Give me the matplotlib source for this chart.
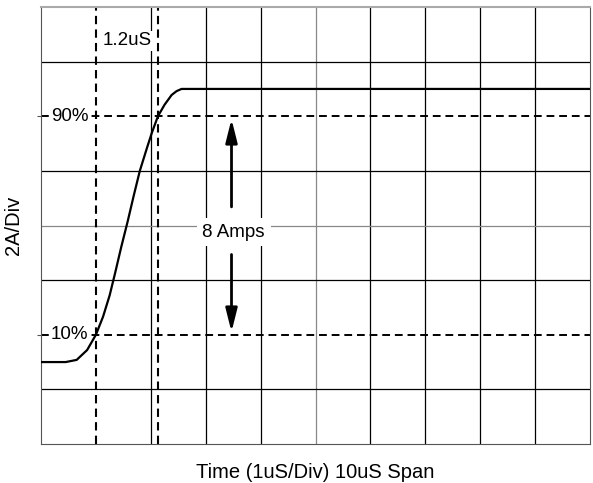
import numpy as np
import matplotlib.pyplot as plt

plt.rcParams['font.family'] = ['Liberation Sans', 'DejaVu Sans']

# 波形数据 (x: 1uS/Div, y: 2A/Div)
t_div = [0.0, 0.45, 0.65, 0.84, 1.0, 1.13, 1.25, 1.35, 1.46, 1.58, 1.69, 1.8,
         1.93, 2.02, 2.13, 2.25, 2.38, 2.47, 2.56, 10.0]
i_div = [1.5, 1.5, 1.54, 1.72, 2.0, 2.33, 2.72, 3.13, 3.6, 4.08, 4.55, 5.0,
         5.42, 5.70, 6.0, 6.21, 6.39, 6.46, 6.5, 6.5]

level_10 = 2.0
level_90 = 6.0
t_10 = 1.0
t_90 = 2.13
arrow_x = 3.47

fig = plt.figure(figsize=(5.93, 4.83), dpi=100)
ax = fig.add_axes([41 / 593, 1 - 444 / 483, 549 / 593, 437 / 483])
ax.set_xlim(0, 10)
ax.set_ylim(0, 8)

# 网格 (10%/90% 处由虚线代替)
for x in range(2, 10):
    ax.axvline(x, color='#888888' if x == 5 else 'black', lw=0.9, zorder=1)
for y in [1, 3, 4, 5, 7]:
    ax.axhline(y, color='#888888' if y == 4 else 'black', lw=0.9, zorder=1)

# 10% / 90% 虚线
dash = (0, (4, 2.5))
ax.axhline(level_90, color='black', lw=1.4, ls=dash, zorder=2)
ax.axhline(level_10, color='black', lw=1.4, ls=dash, zorder=2)
ax.axvline(t_10, color='black', lw=1.5, ls=dash, zorder=2)
ax.axvline(t_90, color='black', lw=1.5, ls=dash, zorder=2)

# 波形
ax.plot(t_div, i_div, color='black', lw=1.6, zorder=4, solid_joinstyle='round')

# 标注
box = dict(facecolor='white', edgecolor='none', pad=1)
ax.text(0.86, level_90, '90%', ha='right', va='center', fontsize=13.5, bbox=box, zorder=3)
ax.text(0.86, level_10, '10%', ha='right', va='center', fontsize=13.5, bbox=box, zorder=3)
ax.text(1.12, 7.38, '1.2uS', ha='left', va='center', fontsize=13.5, bbox=box, zorder=3)
ax.text(arrow_x + 0.04, 3.88, '8 Amps', ha='center', va='center', fontsize=13.5,
        bbox=dict(facecolor='white', edgecolor='none', pad=4), zorder=3)

arrow = dict(arrowstyle='-|>,head_length=1.4,head_width=0.35', color='black', lw=2)
ax.annotate('', xy=(arrow_x, level_90), xytext=(arrow_x, 4.29), arrowprops=arrow, zorder=5)
ax.annotate('', xy=(arrow_x, level_10), xytext=(arrow_x, 3.52), arrowprops=arrow, zorder=5)

# 坐标轴
ax.set_xticks([])
ax.set_yticks([level_10, level_90])
ax.set_yticklabels([])
ax.tick_params(axis='y', length=3, width=0.8, direction='out', color='#555555')
for side in ['left', 'bottom', 'right']:
    ax.spines[side].set_color('#555555')
ax.spines['top'].set_color('#aaaaaa')
ax.spines['top'].set_linewidth(1.5)

ax.set_xlabel('Time (1uS/Div) 10uS Span', fontsize=14.5, labelpad=14)
ax.set_ylabel('2A/Div', fontsize=14.5)
ax.yaxis.set_label_coords(-(41 - 23) / 549, 0.5)

fig.savefig('out.png', dpi=100)
